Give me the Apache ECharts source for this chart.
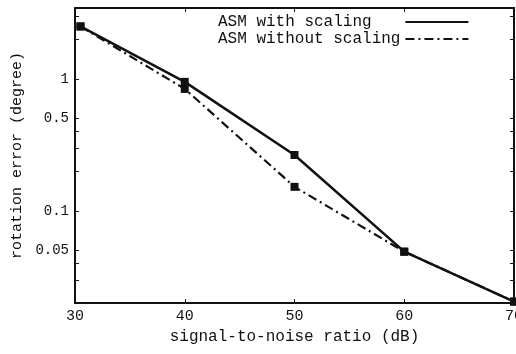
<!DOCTYPE html>
<html>
<head>
<meta charset="utf-8">
<script src="https://cdn.jsdelivr.net/npm/echarts@6/dist/echarts.min.js"></script>
<style>
  html, body { margin: 0; padding: 0; background: #fff; }
  #chart { width: 516px; height: 354px; }
</style>
</head>
<body>
<div id="chart"></div>
<script>
// signal-to-noise ratio (dB)
const snr = [30.5, 40, 50, 60, 70];
const withScaling = [2.5, 0.95, 0.265, 0.049, 0.0205];
const withoutScaling = [2.5, 0.84, 0.152, 0.049, 0.0205];

const yLabels = [1, 0.5, 0.1, 0.05];
const yTicks = [0.03, 0.04, 0.05, 0.1, 0.2, 0.3, 0.4, 0.5, 1, 2, 3];

const font = 'Liberation Mono';
const ink = '#111';

const pairs = ys => snr.map((x, i) => [x, ys[i]]);

const chart = echarts.init(document.getElementById('chart'));
chart.setOption({
    animation: false,
    grid: {left: 75, right: 2, top: 8, bottom: 51, outerBoundsMode: 'none'},
    legend: {
        orient: 'vertical',
        left: 213,
        top: 9,
        align: 'right',
        itemWidth: 63,
        itemHeight: 10,
        itemGap: 1,
        itemStyle: {opacity: 0},
        // monospace text, padded so both rows start at the same x
        formatter: name => name.padEnd(19, '\u00a0'),
        textStyle: {fontFamily: font, fontSize: 16, color: ink},
        data: ['ASM with scaling', 'ASM without scaling']
    },
    xAxis: [{
        type: 'value',
        min: 30,
        max: 70,
        interval: 10,
        name: 'signal-to-noise ratio (dB)',
        nameLocation: 'middle',
        nameGap: 24,
        nameTextStyle: {fontFamily: font, fontSize: 16, color: ink},
        axisLine: {lineStyle: {color: ink, width: 2}},
        axisTick: {inside: true, length: 4, lineStyle: {color: ink}},
        axisLabel: {fontFamily: font, fontSize: 15, color: ink, margin: 6},
        splitLine: {show: false}
    }, {
        type: 'value',
        position: 'top',
        min: 30,
        max: 70,
        interval: 10,
        axisLine: {show: true, lineStyle: {color: ink, width: 2}},
        axisTick: {inside: true, length: 4, lineStyle: {color: ink}},
        axisLabel: {show: false},
        splitLine: {show: false}
    }],
    yAxis: [{
        type: 'log',
        min: 0.02,
        max: 3.45,
        name: 'rotation error (degree)',
        nameLocation: 'middle',
        nameGap: 38,
        nameTextStyle: {fontFamily: font, fontSize: 15, color: ink},
        axisLine: {show: true, lineStyle: {color: ink, width: 2}},
        axisTick: {inside: true, length: 4, lineStyle: {color: ink}, customValues: yTicks},
        axisLabel: {fontFamily: font, fontSize: 14, color: ink, margin: 6, customValues: yLabels,
            formatter: v => String(+v.toPrecision(3))},
        minorTick: {show: false},
        splitLine: {show: false}
    }, {
        type: 'log',
        position: 'right',
        min: 0.02,
        max: 3.45,
        axisLine: {show: true, lineStyle: {color: ink, width: 2}},
        axisTick: {inside: true, length: 4, lineStyle: {color: ink}, customValues: yTicks},
        axisLabel: {show: false},
        splitLine: {show: false}
    }],
    series: [{
        name: 'ASM with scaling',
        type: 'line',
        data: pairs(withScaling),
        symbol: 'rect',
        symbolSize: 8,
        itemStyle: {color: ink},
        lineStyle: {color: ink, width: 2.5},
        z: 3
    }, {
        name: 'ASM without scaling',
        type: 'line',
        data: pairs(withoutScaling),
        symbol: 'rect',
        symbolSize: 8,
        itemStyle: {color: ink},
        lineStyle: {color: ink, width: 2.2, type: [9, 4, 2, 4]},
        z: 2
    }]
});
</script>
</body>
</html>
